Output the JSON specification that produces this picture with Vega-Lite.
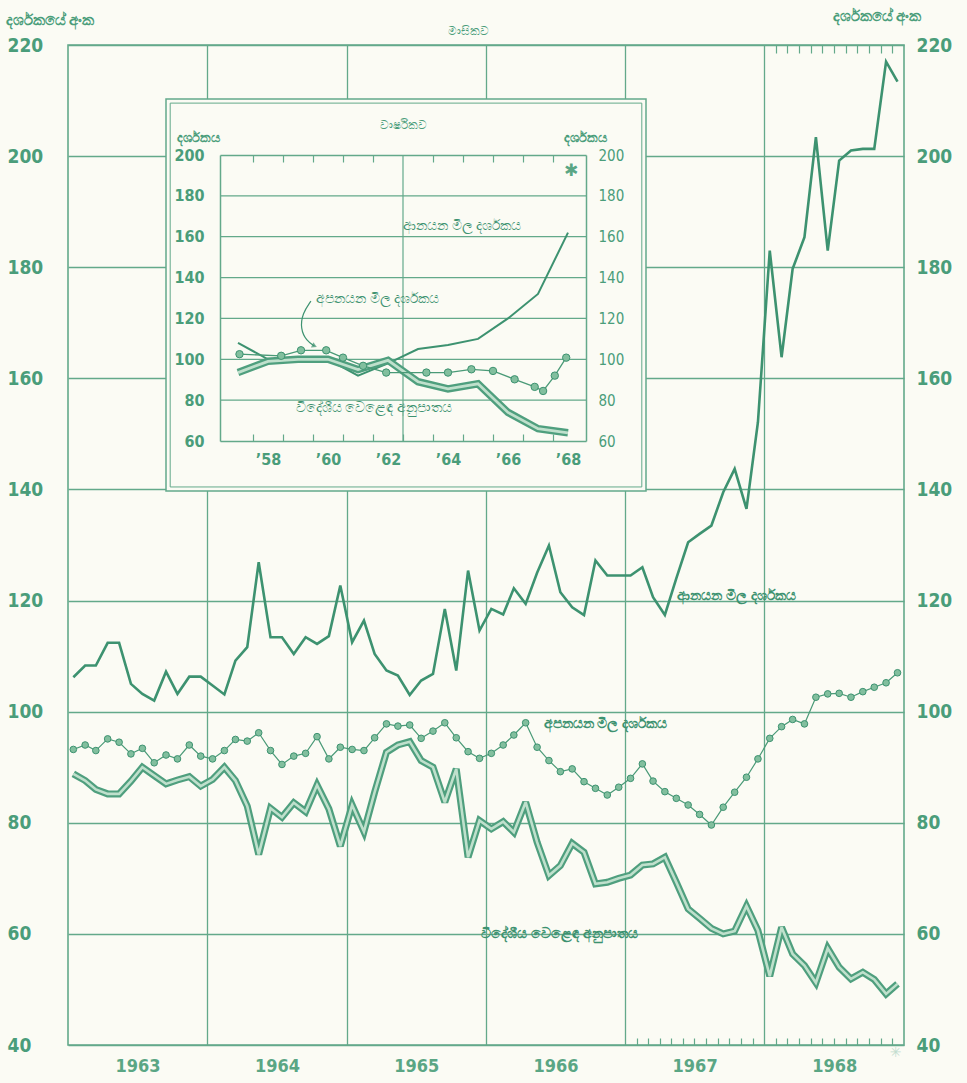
{
  "$schema": "https://vega.github.io/schema/vega-lite/v6.json",
  "width": 836,
  "height": 1000,
  "autosize": {"type": "none"},
  "padding": {"left": 68, "top": 45, "right": 63, "bottom": 38},
  "background": "#fbfbf4",
  "config": {
    "view": {"stroke": "#63a98a", "strokeWidth": 1.6},
    "axis": {
      "labelColor": "#4a9d7a", "titleColor": "#4a9d7a", "domainColor": "#63a98a", "tickColor": "#63a98a",
      "gridColor": "#63a98a", "gridWidth": 1.3, "domainWidth": 1.5, "tickWidth": 1.2, "tickSize": 0,
      "labelFont": "DejaVu Sans Condensed, DejaVu Sans", "titleFont": "Noto Sans, DejaVu Sans",
      "labelFontWeight": "bold", "labelOverlap": false, "labelFlush": false,
      "ticks": false, "domain": false, "grid": false
    },
    "text": {"font": "Noto Sans, DejaVu Sans"}
  },
  "datasets": {
    "monthly": [
      {"date": "1963-01-15", "imp": 106.2, "exp": 93.2, "tot": 88.8},
      {"date": "1963-02-15", "imp": 108.3, "exp": 94, "tot": 87.6},
      {"date": "1963-03-15", "imp": 108.3, "exp": 93, "tot": 86},
      {"date": "1963-04-15", "imp": 112.4, "exp": 95.1, "tot": 85.2},
      {"date": "1963-05-15", "imp": 112.4, "exp": 94.5, "tot": 85.2},
      {"date": "1963-06-15", "imp": 105, "exp": 92.4, "tot": 87.5},
      {"date": "1963-07-15", "imp": 103.2, "exp": 93.4, "tot": 90},
      {"date": "1963-08-15", "imp": 102, "exp": 90.8, "tot": 88.5},
      {"date": "1963-09-15", "imp": 107.2, "exp": 92.2, "tot": 87},
      {"date": "1963-10-15", "imp": 103.2, "exp": 91.5, "tot": 87.7},
      {"date": "1963-11-15", "imp": 106.3, "exp": 94, "tot": 88.3},
      {"date": "1963-12-15", "imp": 106.3, "exp": 92, "tot": 86.6},
      {"date": "1964-01-15", "imp": 104.7, "exp": 91.5, "tot": 87.8},
      {"date": "1964-02-15", "imp": 103.1, "exp": 93, "tot": 90},
      {"date": "1964-03-15", "imp": 109.2, "exp": 95, "tot": 87.6},
      {"date": "1964-04-15", "imp": 111.6, "exp": 94.7, "tot": 83},
      {"date": "1964-05-15", "imp": 126.9, "exp": 96.2, "tot": 74.3},
      {"date": "1964-06-15", "imp": 113.4, "exp": 93, "tot": 82.6},
      {"date": "1964-07-15", "imp": 113.4, "exp": 90.5, "tot": 81},
      {"date": "1964-08-15", "imp": 110.4, "exp": 92, "tot": 83.6},
      {"date": "1964-09-15", "imp": 113.4, "exp": 92.5, "tot": 82},
      {"date": "1964-10-15", "imp": 112.2, "exp": 95.5, "tot": 86.8},
      {"date": "1964-11-15", "imp": 113.6, "exp": 91.5, "tot": 82.5},
      {"date": "1964-12-15", "imp": 122.7, "exp": 93.6, "tot": 75.8},
      {"date": "1965-01-15", "imp": 112.5, "exp": 93.2, "tot": 83.2},
      {"date": "1965-02-15", "imp": 116.4, "exp": 93, "tot": 78.4},
      {"date": "1965-03-15", "imp": 110.4, "exp": 95.3, "tot": 85.5},
      {"date": "1965-04-15", "imp": 107.4, "exp": 97.8, "tot": 92.7},
      {"date": "1965-05-15", "imp": 106.5, "exp": 97.4, "tot": 94},
      {"date": "1965-06-15", "imp": 103, "exp": 97.6, "tot": 94.6},
      {"date": "1965-07-15", "imp": 105.6, "exp": 95.2, "tot": 91.2},
      {"date": "1965-08-15", "imp": 106.8, "exp": 96.5, "tot": 90},
      {"date": "1965-09-15", "imp": 118.5, "exp": 98, "tot": 83.7},
      {"date": "1965-10-15", "imp": 107.4, "exp": 95.3, "tot": 89.7},
      {"date": "1965-11-15", "imp": 125.4, "exp": 92.8, "tot": 73.8},
      {"date": "1965-12-15", "imp": 114.6, "exp": 91.6, "tot": 80.4},
      {"date": "1966-01-15", "imp": 118.5, "exp": 92.5, "tot": 78.9},
      {"date": "1966-02-15", "imp": 117.5, "exp": 94, "tot": 80.2},
      {"date": "1966-03-15", "imp": 122.2, "exp": 95.8, "tot": 78.3},
      {"date": "1966-04-15", "imp": 119.4, "exp": 98, "tot": 83.7},
      {"date": "1966-05-15", "imp": 125, "exp": 93.6, "tot": 76.5},
      {"date": "1966-06-15", "imp": 129.9, "exp": 91.2, "tot": 70.5},
      {"date": "1966-07-15", "imp": 121.5, "exp": 89.2, "tot": 72.3},
      {"date": "1966-08-15", "imp": 118.8, "exp": 89.7, "tot": 76.3},
      {"date": "1966-09-15", "imp": 117.4, "exp": 87.4, "tot": 74.7},
      {"date": "1966-10-15", "imp": 127.2, "exp": 86.2, "tot": 69},
      {"date": "1966-11-15", "imp": 124.5, "exp": 85, "tot": 69.3},
      {"date": "1966-12-15", "imp": 124.5, "exp": 86.4, "tot": 70},
      {"date": "1967-01-15", "imp": 124.5, "exp": 88, "tot": 70.6},
      {"date": "1967-02-15", "imp": 126, "exp": 90.6, "tot": 72.4},
      {"date": "1967-03-15", "imp": 120.6, "exp": 87.5, "tot": 72.6},
      {"date": "1967-04-15", "imp": 117.4, "exp": 85.6, "tot": 73.8},
      {"date": "1967-05-15", "imp": 124, "exp": 84.4, "tot": 69.3},
      {"date": "1967-06-15", "imp": 130.5, "exp": 83.2, "tot": 64.5},
      {"date": "1967-07-15", "imp": 132, "exp": 81.5, "tot": 62.8},
      {"date": "1967-08-15", "imp": 133.5, "exp": 79.6, "tot": 61},
      {"date": "1967-09-15", "imp": 139.5, "exp": 82.8, "tot": 60},
      {"date": "1967-10-15", "imp": 143.7, "exp": 85.5, "tot": 60.5},
      {"date": "1967-11-15", "imp": 136.5, "exp": 88.2, "tot": 65},
      {"date": "1967-12-15", "imp": 152.1, "exp": 91.5, "tot": 60.6},
      {"date": "1968-01-15", "imp": 183, "exp": 95.2, "tot": 52.4},
      {"date": "1968-02-15", "imp": 163.8, "exp": 97.3, "tot": 61.2},
      {"date": "1968-03-15", "imp": 179.7, "exp": 98.6, "tot": 56.4},
      {"date": "1968-04-15", "imp": 185.4, "exp": 97.8, "tot": 54.3},
      {"date": "1968-05-15", "imp": 203.4, "exp": 102.6, "tot": 51.2},
      {"date": "1968-06-15", "imp": 183, "exp": 103.2, "tot": 57.4},
      {"date": "1968-07-15", "imp": 199.2, "exp": 103.3, "tot": 54},
      {"date": "1968-08-15", "imp": 201, "exp": 102.6, "tot": 51.9},
      {"date": "1968-09-15", "imp": 201.3, "exp": 103.6, "tot": 53.1},
      {"date": "1968-10-15", "imp": 201.3, "exp": 104.4, "tot": 51.8},
      {"date": "1968-11-15", "imp": 217, "exp": 105.2, "tot": 49.2},
      {"date": "1968-12-15", "imp": 213.4, "exp": 107, "tot": 51}
    ],
    "annual": [
      {"year": 1957, "imp": 108, "tot": 93.5},
      {"year": 1958, "imp": 100, "tot": 99},
      {"year": 1959, "imp": 100, "tot": 100},
      {"year": 1960, "imp": 100, "tot": 100},
      {"year": 1961, "imp": 92, "tot": 95},
      {"year": 1962, "imp": 98, "tot": 99.5},
      {"year": 1963, "imp": 105, "tot": 89},
      {"year": 1964, "imp": 107, "tot": 85.5},
      {"year": 1965, "imp": 110, "tot": 88},
      {"year": 1966, "imp": 120, "tot": 74},
      {"year": 1967, "imp": 132, "tot": 66},
      {"year": 1968, "imp": 162, "tot": 64}
    ],
    "annualExport": [
      {"year": 1957.05, "exp": 102.5},
      {"year": 1958.44, "exp": 101.7},
      {"year": 1959.1, "exp": 104.4},
      {"year": 1959.94, "exp": 104.4},
      {"year": 1960.5, "exp": 100.8},
      {"year": 1961.17, "exp": 96.8},
      {"year": 1961.94, "exp": 93.5},
      {"year": 1963.28, "exp": 93.5},
      {"year": 1964.0, "exp": 93.5},
      {"year": 1964.78, "exp": 95.1},
      {"year": 1965.5, "exp": 94.3},
      {"year": 1966.22, "exp": 90.2},
      {"year": 1966.89, "exp": 86.5},
      {"year": 1967.17, "exp": 84.5},
      {"year": 1967.56, "exp": 92},
      {"year": 1967.94, "exp": 100.8}
    ],
    "mainLabels": [
      {"date": "1967-05-18", "value": 120.8, "label": "ආනයන මිල දර්ශකය"},
      {"date": "1966-06-01", "value": 97.8, "label": "අපනයන මිල දර්ශකය"},
      {"date": "1965-12-20", "value": 60.0, "label": "විදේශීය වෙළෙඳ අනුපාතය"}
    ],
    "insetLabels": [
      {"year": 1962.5, "value": 165.3, "label": "ආනයන මිල දර්ශකය"},
      {"year": 1959.6, "value": 129.5, "label": "අපනයන මිල දර්ශකය"},
      {"year": 1958.93, "value": 76.2, "label": "විදේශීය වෙළෙඳ අනුපාතය"}
    ],
    "arrow": [
      {"k": 1, "year": 1959.43, "value": 128.5},
      {"k": 2, "year": 1959.15, "value": 122.5},
      {"k": 3, "year": 1959.08, "value": 115},
      {"k": 4, "year": 1959.28, "value": 109},
      {"k": 5, "year": 1959.55, "value": 106.5}
    ]
  },
  "resolve": {"scale": {"x": "independent", "y": "independent"}},
  "layer": [
    {
      "resolve": {"axis": {"x": "independent", "y": "independent"}},
      "layer": [
        {
          "data": {"name": "monthly"},
          "mark": {"type": "line", "color": "#3d9270", "strokeWidth": 2.6},
          "encoding": {
            "x": {"field": "date", "type": "temporal",
              "scale": {"type": "utc", "domain": [{"year": 1963, "month": 1, "date": 1, "utc": true}, {"year": 1969, "month": 1, "date": 1, "utc": true}]},
              "axis": {"orient": "bottom", "grid": true, "labels": false, "title": null,
                "values": [{"year": 1964, "month": 1, "date": 1, "utc": true}, {"year": 1965, "month": 1, "date": 1, "utc": true}, {"year": 1966, "month": 1, "date": 1, "utc": true}, {"year": 1967, "month": 1, "date": 1, "utc": true}, {"year": 1968, "month": 1, "date": 1, "utc": true}]}},
            "y": {"field": "imp", "type": "quantitative", "scale": {"domain": [40, 220], "nice": false, "zero": false},
              "axis": {"orient": "left", "grid": true, "values": [40, 60, 80, 100, 120, 140, 160, 180, 200, 220],
                "labelAlign": "left", "labelPadding": 61, "labelFontSize": 19, "labelBaseline": "middle",
                "title": "දර්ශකයේ අංක", "titleAngle": 0, "titleAlign": "left", "titleBaseline": "middle",
                "titleX": -63, "titleY": -26, "titleFontSize": 15, "titleFontWeight": "bold"}}
          }
        },
        {
          "data": {"name": "monthly"},
          "mark": {"type": "line", "color": "#4a9a77", "strokeWidth": 1.2},
          "encoding": {
            "x": {"field": "date", "type": "temporal",
              "scale": {"type": "utc", "domain": [{"year": 1963, "month": 1, "date": 1, "utc": true}, {"year": 1969, "month": 1, "date": 1, "utc": true}]},
              "axis": {"orient": "bottom", "format": "%Y", "labelPadding": 12, "labelFontSize": 18, "labelColor": "#5aa684", "title": null,
                "values": [{"year": 1963, "month": 7, "date": 2, "utc": true}, {"year": 1964, "month": 7, "date": 2, "utc": true}, {"year": 1965, "month": 7, "date": 2, "utc": true}, {"year": 1966, "month": 7, "date": 2, "utc": true}, {"year": 1967, "month": 7, "date": 2, "utc": true}, {"year": 1968, "month": 7, "date": 2, "utc": true}]}},
            "y": {"field": "exp", "type": "quantitative", "scale": {"domain": [40, 220], "nice": false, "zero": false},
              "axis": {"orient": "right", "values": [40, 60, 80, 100, 120, 140, 160, 180, 200, 220],
                "labelAlign": "left", "labelPadding": 12, "labelFontSize": 19, "labelBaseline": "middle",
                "title": "දර්ශකයේ අංක", "titleAngle": 0, "titleAlign": "left", "titleBaseline": "middle",
                "titleX": -72, "titleY": -30, "titleFontSize": 15, "titleFontWeight": "bold"}}
          }
        },
        {
          "data": {"name": "monthly"},
          "mark": {"type": "point", "filled": true, "size": 44, "fill": "#82bf9e", "stroke": "#3d9270", "strokeWidth": 1, "opacity": 1},
          "encoding": {
            "x": {"field": "date", "type": "temporal", "axis": null},
            "y": {"field": "exp", "type": "quantitative", "axis": null}
          }
        },
        {
          "data": {"name": "monthly"},
          "mark": {"type": "line", "color": "#4f9f7e", "strokeWidth": 7, "strokeJoin": "miter", "strokeMiterLimit": 3},
          "encoding": {
            "x": {"field": "date", "type": "temporal",
              "axis": {"orient": "bottom", "ticks": true, "tickSize": -7, "labels": false, "title": null,
                "values": [{"year": 1967, "month": 2, "date": 1, "utc": true}, {"year": 1967, "month": 3, "date": 1, "utc": true}, {"year": 1967, "month": 4, "date": 1, "utc": true}, {"year": 1967, "month": 5, "date": 1, "utc": true}, {"year": 1967, "month": 6, "date": 1, "utc": true}, {"year": 1967, "month": 7, "date": 1, "utc": true}, {"year": 1967, "month": 8, "date": 1, "utc": true}, {"year": 1967, "month": 9, "date": 1, "utc": true}, {"year": 1967, "month": 10, "date": 1, "utc": true}, {"year": 1967, "month": 11, "date": 1, "utc": true}, {"year": 1967, "month": 12, "date": 1, "utc": true},
                  {"year": 1968, "month": 2, "date": 1, "utc": true}, {"year": 1968, "month": 3, "date": 1, "utc": true}, {"year": 1968, "month": 4, "date": 1, "utc": true}, {"year": 1968, "month": 5, "date": 1, "utc": true}, {"year": 1968, "month": 6, "date": 1, "utc": true}, {"year": 1968, "month": 7, "date": 1, "utc": true}, {"year": 1968, "month": 8, "date": 1, "utc": true}, {"year": 1968, "month": 9, "date": 1, "utc": true}, {"year": 1968, "month": 10, "date": 1, "utc": true}, {"year": 1968, "month": 11, "date": 1, "utc": true}, {"year": 1968, "month": 12, "date": 1, "utc": true}]}},
            "y": {"field": "tot", "type": "quantitative", "axis": null}
          }
        },
        {
          "data": {"name": "monthly"},
          "mark": {"type": "line", "color": "#bfe0cc", "strokeWidth": 2.6, "strokeJoin": "miter", "strokeMiterLimit": 3},
          "encoding": {
            "x": {"field": "date", "type": "temporal",
              "axis": {"orient": "top", "ticks": true, "tickSize": -8, "labels": false,
                "title": "මාසිකව", "titleX": 400, "titleY": -15, "titleFontSize": 12, "titleFontWeight": "normal", "titleBaseline": "middle", "titleAlign": "center",
                "values": [{"year": 1968, "month": 2, "date": 1, "utc": true}, {"year": 1968, "month": 3, "date": 1, "utc": true}, {"year": 1968, "month": 4, "date": 1, "utc": true}, {"year": 1968, "month": 5, "date": 1, "utc": true}, {"year": 1968, "month": 6, "date": 1, "utc": true}, {"year": 1968, "month": 7, "date": 1, "utc": true}, {"year": 1968, "month": 8, "date": 1, "utc": true}, {"year": 1968, "month": 9, "date": 1, "utc": true}, {"year": 1968, "month": 10, "date": 1, "utc": true}, {"year": 1968, "month": 11, "date": 1, "utc": true}, {"year": 1968, "month": 12, "date": 1, "utc": true}]}},
            "y": {"field": "tot", "type": "quantitative", "axis": null}
          }
        },
        {
          "data": {"name": "mainLabels"},
          "mark": {"type": "text", "align": "left", "baseline": "middle", "fontSize": 14, "fontWeight": "bold", "color": "#3d9270"},
          "encoding": {
            "x": {"field": "date", "type": "temporal", "axis": null},
            "y": {"field": "value", "type": "quantitative", "axis": null},
            "text": {"field": "label"}
          }
        },
        {
          "data": {"values": [{}]},
          "mark": {"type": "text", "text": "✳", "fontSize": 14, "color": "#c3ddcf", "align": "center", "baseline": "middle"},
          "encoding": {
            "x": {"datum": {"year": 1968, "month": 12, "date": 10, "utc": true}, "type": "temporal", "axis": null},
            "y": {"datum": 38.6, "type": "quantitative", "axis": null}
          }
        }
      ]
    },
    {
      "resolve": {"axis": {"x": "independent", "y": "independent"}},
      "layer": [
        {
          "data": {"values": [{}]},
          "mark": {"type": "rect", "fill": "#fbfbf4", "stroke": "#63a98a", "strokeWidth": 1.5},
          "encoding": {
            "x": {"datum": 1954.6, "type": "quantitative", "scale": {"domain": [1956.4, 1968.6], "range": [152, 518], "nice": false, "zero": false}, "axis": null},
            "x2": {"datum": 1970.6},
            "y": {"datum": 227.4, "type": "quantitative", "scale": {"domain": [60, 200], "range": [396, 110], "nice": false, "zero": false}, "axis": null},
            "y2": {"datum": 35.5}
          }
        },
        {
          "data": {"values": [{}]},
          "mark": {"type": "rect", "fillOpacity": 0, "stroke": "#63a98a", "strokeWidth": 1},
          "encoding": {
            "x": {"datum": 1954.74, "type": "quantitative", "axis": null},
            "x2": {"datum": 1970.46},
            "y": {"datum": 225.4, "type": "quantitative", "axis": null},
            "y2": {"datum": 37.5}
          }
        },
        {
          "data": {"values": [{"v": 80}, {"v": 100}, {"v": 120}, {"v": 140}, {"v": 160}, {"v": 180}]},
          "mark": {"type": "rule", "color": "#63a98a", "strokeWidth": 1.2},
          "encoding": {
            "x": {"datum": 1956.4, "type": "quantitative",
              "axis": {"orient": "bottom", "offset": -604, "zindex": 1, "domain": true, "values": [1958, 1960, 1962, 1964, 1966, 1968], "format": "d",
                "labelExpr": "'’' + substring(datum.label, 2)", "labelPadding": 10, "labelFontSize": 16, "title": null}},
            "x2": {"datum": 1968.6},
            "y": {"field": "v", "type": "quantitative",
              "axis": {"orient": "left", "offset": -152, "zindex": 1, "domain": true, "values": [60, 80, 100, 120, 140, 160, 180, 200],
                "labelPadding": 16, "labelFontSize": 16, "labelBaseline": "middle",
                "title": "දර්ශකය", "titleAngle": 0, "titleAlign": "left", "titleBaseline": "middle", "titleX": -44, "titleY": 92, "titleFontSize": 13, "titleFontWeight": "bold"}}
          }
        },
        {
          "data": {"values": [{"year": 1962.5}]},
          "mark": {"type": "rule", "color": "#63a98a", "strokeWidth": 1.2},
          "encoding": {
            "x": {"field": "year", "type": "quantitative",
              "axis": {"orient": "top", "offset": -110, "zindex": 1, "domain": true, "ticks": true, "tickSize": -7, "labels": false,
                "values": [1957.5, 1958.5, 1959.5, 1960.5, 1961.5, 1963.5, 1964.5, 1965.5, 1966.5, 1967.5],
                "title": "වාර්ෂිකව", "titleX": 335, "titleY": -31, "titleFontSize": 12, "titleFontWeight": "normal", "titleBaseline": "middle"}},
            "y": {"datum": 60, "type": "quantitative",
              "axis": {"orient": "right", "offset": -318, "zindex": 1, "domain": true, "values": [60, 80, 100, 120, 140, 160, 180, 200],
                "labelAlign": "left", "labelPadding": 12, "labelFontSize": 15, "labelFontWeight": "normal", "labelBaseline": "middle",
                "title": "දර්ශකය", "titleAngle": 0, "titleAlign": "left", "titleBaseline": "middle", "titleX": -23, "titleY": 92, "titleFontSize": 13, "titleFontWeight": "bold"}},
            "y2": {"datum": 200}
          }
        },
        {
          "data": {"name": "annual"},
          "mark": {"type": "line", "color": "#3d9270", "strokeWidth": 2},
          "encoding": {
            "x": {"field": "year", "type": "quantitative",
              "axis": {"orient": "bottom", "offset": -604, "zindex": 1, "ticks": true, "tickSize": -7, "labels": false, "title": null,
                "values": [1957.5, 1958.5, 1959.5, 1960.5, 1961.5, 1962.5, 1963.5, 1964.5, 1965.5, 1966.5, 1967.5]}},
            "y": {"field": "imp", "type": "quantitative", "axis": null}
          }
        },
        {
          "data": {"name": "annual"},
          "mark": {"type": "line", "color": "#4f9f7e", "strokeWidth": 7.5, "strokeJoin": "miter", "strokeMiterLimit": 3},
          "encoding": {
            "x": {"field": "year", "type": "quantitative", "axis": null},
            "y": {"field": "tot", "type": "quantitative", "axis": null}
          }
        },
        {
          "data": {"name": "annual"},
          "mark": {"type": "line", "color": "#bfe0cc", "strokeWidth": 2.8},
          "encoding": {
            "x": {"field": "year", "type": "quantitative", "axis": null},
            "y": {"field": "tot", "type": "quantitative", "axis": null}
          }
        },
        {
          "data": {"name": "annualExport"},
          "mark": {"type": "line", "color": "#4a9a77", "strokeWidth": 1.3},
          "encoding": {
            "x": {"field": "year", "type": "quantitative", "axis": null},
            "y": {"field": "exp", "type": "quantitative", "axis": null}
          }
        },
        {
          "data": {"name": "annualExport"},
          "mark": {"type": "point", "filled": true, "size": 55, "fill": "#82bf9e", "stroke": "#3d9270", "strokeWidth": 1, "opacity": 1},
          "encoding": {
            "x": {"field": "year", "type": "quantitative", "axis": null},
            "y": {"field": "exp", "type": "quantitative", "axis": null}
          }
        },
        {
          "data": {"name": "arrow"},
          "mark": {"type": "line", "color": "#3d9270", "strokeWidth": 1.2, "interpolate": "basis"},
          "encoding": {
            "x": {"field": "year", "type": "quantitative", "axis": null},
            "y": {"field": "value", "type": "quantitative", "axis": null},
            "order": {"field": "k"}
          }
        },
        {
          "data": {"values": [{}]},
          "mark": {"type": "point", "shape": "triangle-right", "angle": 25, "size": 35, "filled": true, "color": "#3d9270"},
          "encoding": {
            "x": {"datum": 1959.55, "type": "quantitative", "axis": null},
            "y": {"datum": 106.5, "type": "quantitative", "axis": null}
          }
        },
        {
          "data": {"name": "insetLabels"},
          "mark": {"type": "text", "align": "left", "baseline": "middle", "fontSize": 13.5, "color": "#3d9270"},
          "encoding": {
            "x": {"field": "year", "type": "quantitative", "axis": null},
            "y": {"field": "value", "type": "quantitative", "axis": null},
            "text": {"field": "label"}
          }
        },
        {
          "data": {"values": [{}]},
          "mark": {"type": "text", "text": "✱", "fontSize": 17, "color": "#5aa684", "align": "center", "baseline": "middle"},
          "encoding": {
            "x": {"datum": 1968.1, "type": "quantitative", "axis": null},
            "y": {"datum": 192.2, "type": "quantitative", "axis": null}
          }
        }
      ]
    }
  ]
}
